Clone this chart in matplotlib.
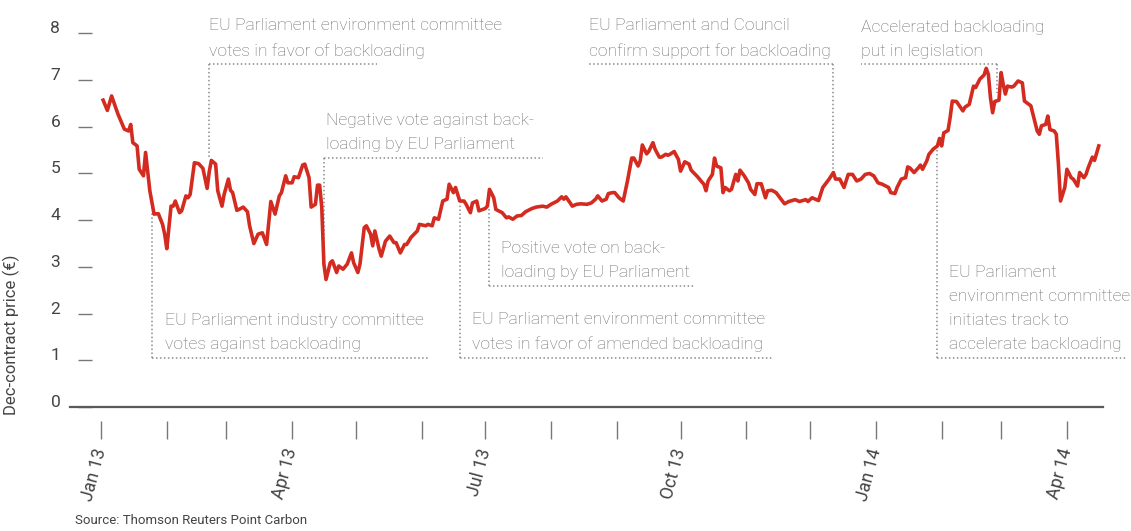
import numpy as np
import matplotlib
matplotlib.use("Agg")
import matplotlib.pyplot as plt
import matplotlib.dates as mdates
import matplotlib.ticker as mticker

# EUA Dec-contract price (days since 2013-01-01)
days = [1, 3, 5, 8, 11, 13, 14, 15, 17, 18, 20, 21, 23, 25, 27, 29, 30, 31, 33, 34,
        35, 37, 38, 40, 41, 42, 44, 46, 48, 50, 51, 52, 54, 55, 57, 58, 60, 61, 62, 64,
        65, 67, 69, 70, 72, 74, 76, 78, 80, 82, 84, 85, 87, 88, 90, 91, 93, 95, 96, 98,
        99, 101, 102, 103, 104, 105, 106, 108, 109, 111, 112, 114, 116, 118, 119, 121, 122, 124, 125, 127,
        128, 129, 131, 132, 134, 136, 138, 139, 141, 143, 144, 146, 149, 150, 153, 154, 156, 157, 159, 161,
        163, 164, 166, 167, 169, 171, 172, 174, 175, 177, 178, 181, 182, 183, 185, 186, 189, 191, 192, 194,
        196, 198, 200, 203, 205, 208, 210, 212, 215, 217, 218, 219, 221, 222, 224, 226, 229, 231, 233, 234,
        236, 238, 239, 241, 242, 244, 246, 248, 250, 251, 253, 254, 255, 257, 258, 260, 261, 263, 264, 266,
        267, 268, 270, 272, 273, 275, 277, 278, 281, 283, 284, 285, 286, 288, 289, 290, 292, 293, 294, 296,
        297, 299, 300, 301, 303, 305, 306, 308, 309, 311, 313, 314, 316, 318, 320, 322, 324, 327, 329, 332,
        333, 335, 338, 340, 343, 345, 346, 348, 350, 352, 354, 356, 358, 360, 362, 364, 366, 368, 371, 372,
        374, 375, 377, 379, 380, 381, 383, 385, 386, 387, 389, 390, 392, 394, 395, 396, 397, 399, 400, 401,
        403, 406, 407, 409, 411, 412, 414, 416, 417, 418, 419, 420, 421, 423, 424, 425, 426, 427, 429, 430,
        432, 434, 435, 438, 439, 441, 442, 443, 445, 446, 447, 449, 450, 451, 452, 454, 455, 457, 458, 460,
        461, 463, 464, 465, 467, 468, 470]
prices = [6.57, 6.35, 6.66, 6.27, 5.95, 5.91, 6.05, 5.66, 5.59, 5.09, 4.95, 5.45, 4.63, 4.13, 4.14, 3.91, 3.70, 3.39, 4.30, 4.30,
          4.41, 4.16, 4.20, 4.52, 4.48, 4.55, 5.23, 5.21, 5.11, 4.68, 5.04, 5.28, 5.20, 4.63, 4.30, 4.55, 4.88, 4.64, 4.59, 4.21,
          4.23, 4.28, 4.18, 3.88, 3.50, 3.70, 3.73, 3.48, 4.40, 4.13, 4.52, 4.59, 4.95, 4.80, 4.80, 4.93, 4.91, 5.18, 5.20, 4.91,
          4.28, 4.34, 4.75, 4.75, 4.27, 3.06, 2.73, 3.09, 3.13, 2.88, 3.02, 2.95, 3.06, 3.30, 3.09, 2.88, 3.06, 3.84, 3.88, 3.70,
          3.45, 3.77, 3.38, 3.23, 3.55, 3.66, 3.52, 3.52, 3.30, 3.48, 3.48, 3.63, 3.77, 3.91, 3.88, 3.91, 3.88, 4.05, 4.02, 4.41,
          4.45, 4.77, 4.59, 4.70, 4.41, 4.41, 4.34, 4.16, 4.37, 4.41, 4.20, 4.25, 4.30, 4.66, 4.48, 4.23, 4.16, 4.05, 4.07, 4.02,
          4.09, 4.10, 4.18, 4.25, 4.28, 4.30, 4.28, 4.34, 4.41, 4.50, 4.45, 4.50, 4.37, 4.30, 4.34, 4.35, 4.34, 4.37, 4.45, 4.52,
          4.41, 4.45, 4.57, 4.59, 4.59, 4.48, 4.41, 4.84, 5.33, 5.33, 5.16, 5.27, 5.61, 5.42, 5.47, 5.66, 5.52, 5.35, 5.35, 5.41,
          5.39, 5.41, 5.47, 5.30, 5.05, 5.25, 5.20, 5.07, 4.93, 4.82, 4.77, 4.63, 4.84, 4.98, 5.33, 5.16, 5.12, 4.59, 4.70, 4.63,
          4.66, 4.98, 4.84, 5.07, 4.95, 4.80, 4.66, 4.55, 4.78, 4.78, 4.48, 4.63, 4.64, 4.59, 4.47, 4.35, 4.40, 4.44, 4.40, 4.44,
          4.40, 4.48, 4.42, 4.70, 4.88, 5.02, 4.88, 4.88, 4.70, 4.98, 4.98, 4.84, 4.88, 4.98, 5.00, 4.95, 4.80, 4.77, 4.70, 4.59,
          4.57, 4.70, 4.88, 4.91, 5.14, 5.12, 5.02, 5.12, 5.18, 5.09, 5.27, 5.41, 5.52, 5.59, 5.75, 5.59, 5.87, 5.92, 6.20, 6.55,
          6.54, 6.34, 6.42, 6.48, 6.87, 6.84, 7.02, 7.11, 7.25, 7.12, 6.62, 6.30, 6.54, 6.57, 7.16, 6.91, 6.70, 6.87, 6.85, 6.87,
          6.98, 6.94, 6.55, 6.45, 6.27, 5.91, 5.84, 6.02, 6.05, 6.23, 5.94, 5.91, 5.84, 5.20, 4.41, 4.70, 5.09, 4.91, 4.88, 4.73,
          5.02, 4.91, 4.98, 5.12, 5.35, 5.28, 5.59]

# events marked on the chart
event_dates = ["2013-01-25", "2013-02-21", "2013-04-16", "2013-06-19",
               "2013-07-03", "2013-12-12", "2014-01-30", "2014-02-27"]
event_texts = ["EU Parliament industry committee\nvotes against backloading",
               "EU Parliament environment committee\nvotes in favor of backloading",
               "Negative vote against back-\nloading by EU Parliament",
               "EU Parliament environment committee\nvotes in favor of amended backloading",
               "Positive vote on back-\nloading by EU Parliament",
               "EU Parliament and Council\nconfirm support for backloading",
               "EU Parliament\nenvironment committee\ninitiates track to\naccelerate backloading",
               "Accelerated backloading\nput in legislation"]
# leader layout: where the leader meets the price line, level of the dotted bar,
# other end of the bar, text shift (px) from the bar's left end
leader_touch = [4.15, 5.30, 3.08, 4.36, 4.26, 5.07, 5.60, 6.72]
bar_level = [1.05, 7.34, 5.33, 1.05, 2.59, 7.34, 1.05, 7.34]
bar_end = ["2013-06-04", "2013-05-11", "2013-07-28", "2013-11-13",
           "2013-10-08", "2013-08-19", "2014-04-29", "2013-12-25"]
text_shift = [13, 0, 2, 12, 12, 0, 12, 0]

start = np.datetime64("2013-01-01")
dates = start + np.array(days).astype("timedelta64[D]")

RED = "#d42b21"
GREY_TXT = "#6e6e6e"
GREY_LN = "#8a8a8a"
FONT = ["Roboto", "DejaVu Sans"]

fig = plt.figure(figsize=(11.31, 5.31), dpi=100)
ax = fig.add_axes([70 / 1131, 124 / 531, 1033 / 1131, 397 / 531])

ax.plot(dates, prices, color=RED, lw=2.6, solid_joinstyle="round", zorder=3)

base = mdates.date2num(start)
ax.set_xlim(base - 14.6, base + 472.0)
ax.set_ylim(0, 8.5)

# dotted leaders and event notes
px = 1 / 2.123  # days per pixel
for d, txt, touch, lvl, end, sh in zip(event_dates, event_texts, leader_touch,
                                        bar_level, bar_end, text_shift):
    xd = mdates.date2num(np.datetime64(d))
    xe = mdates.date2num(np.datetime64(end))
    ls = (0, (1, 1.6))
    ax.plot([xd, xd], [lvl, touch], color=GREY_LN, lw=1.1, ls=ls, clip_on=False, zorder=2)
    ax.plot([xd, xe], [lvl, lvl], color=GREY_LN, lw=1.1, ls=ls, clip_on=False, zorder=2)
    left = min(xd, xe) + sh * px
    ax.text(left, lvl + 0.12, txt, ha="left", va="bottom", fontsize=12.6,
            color=GREY_TXT, family=FONT, fontweight="light", linespacing=1.75)

# axes styling
for s in ["top", "right", "left", "bottom"]:
    ax.spines[s].set_visible(False)
ax.axhline(0, color="#5a5a5a", lw=1.6, clip_on=False, zorder=4)

ax.spines["left"].set_position(("outward", -6))
ax.set_yticks(range(0, 9))
ax.tick_params(axis="y", direction="in", length=10, width=1.0, color="#777777",
               pad=13, labelsize=12.5, labelcolor="#444444")
for lab in ax.get_yticklabels():
    lab.set_family(FONT)
    lab.set_va("baseline")

ax.spines["bottom"].set_position(("outward", 10))
ax.xaxis.set_major_locator(mdates.MonthLocator(bymonth=[1, 4, 7, 10]))
ax.xaxis.set_minor_locator(mdates.MonthLocator())
ax.xaxis.set_major_formatter(mdates.DateFormatter("%b %y"))
ax.xaxis.set_minor_formatter(mticker.NullFormatter())
ax.tick_params(axis="x", which="both", direction="out", length=13, width=1.0,
               color="#777777", pad=7, labelsize=12.8, labelcolor="#444444")
for lab in ax.get_xticklabels():
    lab.set_rotation(75)
    lab.set_ha("right")
    lab.set_va("center")
    lab.set_rotation_mode("anchor")
    lab.set_family(FONT)

ax.set_ylabel("Dec-contract price (€)", fontsize=12, color="#444444", family=FONT)
ax.yaxis.set_label_coords(-0.048, 0.181)

fig.text(75 / 1131, 1 - 521 / 531, "Source: Thomson Reuters Point Carbon",
         fontsize=9.5, color="#444444", family=FONT, va="center")

fig.savefig("out.png", dpi=100)
